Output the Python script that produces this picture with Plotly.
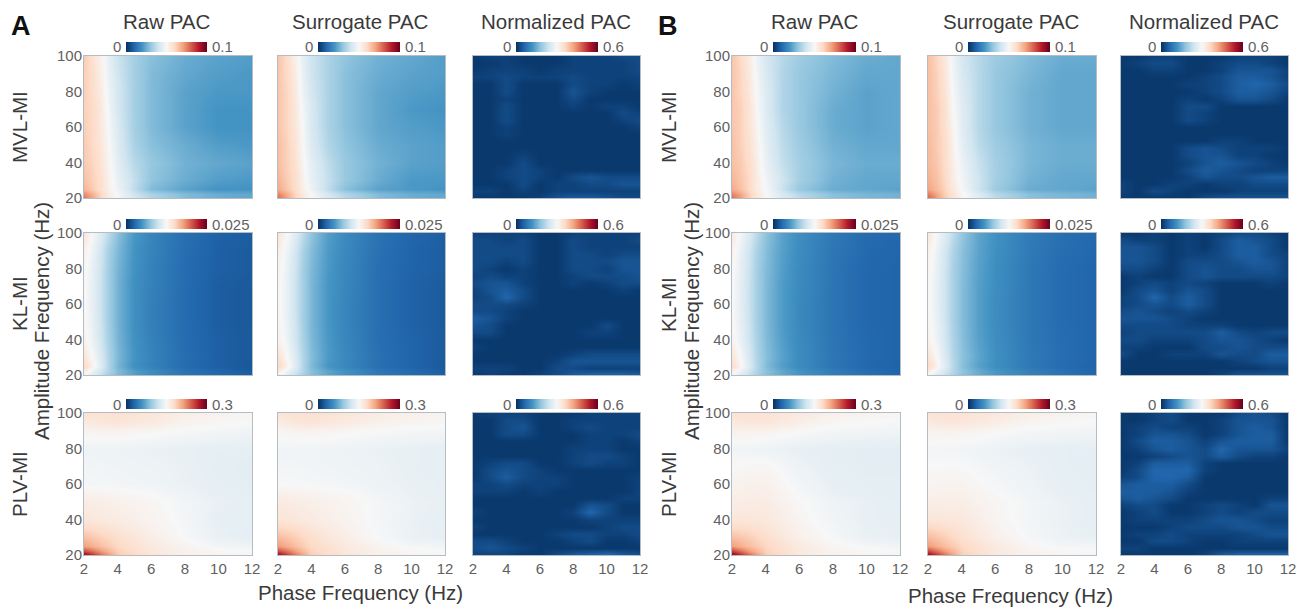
import plotly.graph_objects as go

W, H = 1305, 608
PAGE_MARGIN = 8  # the page body offsets the figure by this many pixels
RDBU = [[0.0, "#053061"], [0.1, "#2166ac"], [0.2, "#4393c3"], [0.3, "#92c5de"], [0.4, "#d1e5f0"],
        [0.5, "#f7f7f7"], [0.6, "#fddbc7"], [0.7, "#f4a582"], [0.8, "#d6604d"], [0.9, "#b2182b"], [1.0, "#67001f"]]

# ---- shared grids (Hz) ----
PHASE_FINE = [2, 2.5, 3, 3.5, 4, 5, 6, 8, 10, 12]
AMP_FINE = [100, 90, 80, 70, 60, 50, 40, 30, 25, 22, 20]
PHASE_PLV = [2, 3, 4, 6, 8, 10, 12]
AMP_PLV = [100, 95, 90, 80, 70, 60, 54, 50, 40, 30, 25, 22, 20]
PHASE_NORM = [2, 3, 4, 5, 6, 7, 8, 9, 10, 11, 12]
AMP_NORM = [100, 96, 92, 88, 84, 80, 76, 72, 68, 64, 60, 56, 52, 48, 44, 40, 36, 32, 28, 24, 20]

# ---- MVL-MI raw / surrogate (unit 0.001) ----
A_MVL_RAW = [
    [63, 58, 52, 45, 39, 33, 29, 25, 23, 22],
    [62, 59, 53, 46, 40, 33, 28, 24, 22, 21],
    [62, 59, 54, 47, 41, 33, 28, 23, 21, 21],
    [62, 60, 55, 48, 41, 33, 28, 23, 20, 20],
    [62, 60, 55, 49, 42, 33, 28, 23, 20, 20],
    [63, 60, 56, 50, 43, 34, 29, 25, 22, 21],
    [63, 61, 57, 51, 44, 36, 31, 26, 24, 23],
    [65, 62, 58, 52, 46, 38, 30, 25, 22, 21],
    [67, 63, 58, 52, 47, 37, 28, 23, 20, 20],
    [74, 68, 60, 54, 49, 40, 34, 28, 25, 24],
    [77, 70, 60, 54, 49, 41, 35, 28, 25, 24],
]
A_MVL_SUR = [
    [64, 60, 53, 45, 40, 34, 30, 26, 24, 22],
    [64, 60, 54, 46, 40, 34, 29, 25, 23, 22],
    [64, 61, 55, 47, 41, 34, 29, 24, 22, 21],
    [64, 61, 56, 48, 42, 34, 29, 24, 21, 20],
    [64, 61, 56, 49, 42, 34, 29, 24, 22, 21],
    [65, 62, 57, 50, 43, 35, 30, 25, 23, 22],
    [65, 62, 58, 51, 45, 37, 31, 26, 23, 22],
    [67, 63, 59, 52, 46, 38, 31, 25, 21, 21],
    [69, 64, 59, 53, 47, 37, 29, 23, 21, 20],
    [75, 69, 61, 55, 50, 41, 35, 28, 25, 24],
    [78, 71, 61, 55, 50, 42, 36, 28, 25, 24],
]
B_MVL_RAW = [
    [64, 60, 54, 47, 41, 36, 32, 28, 25, 24],
    [64, 61, 55, 48, 42, 35, 31, 27, 24, 24],
    [64, 61, 56, 49, 43, 35, 31, 26, 23, 24],
    [64, 62, 57, 50, 43, 35, 31, 25, 23, 24],
    [64, 62, 57, 51, 44, 36, 31, 25, 23, 24],
    [65, 62, 58, 52, 45, 37, 32, 26, 24, 24],
    [65, 63, 59, 53, 46, 38, 33, 27, 25, 25],
    [67, 64, 60, 54, 48, 40, 33, 26, 24, 24],
    [69, 65, 60, 54, 49, 39, 31, 25, 24, 23],
    [75, 70, 62, 56, 50, 42, 36, 29, 27, 26],
    [78, 72, 62, 56, 50, 43, 37, 29, 27, 26],
]
B_MVL_SUR = [
    [65, 61, 55, 47, 41, 36, 32, 28, 25, 25],
    [65, 62, 56, 48, 42, 36, 31, 27, 24, 24],
    [65, 62, 57, 49, 43, 36, 31, 26, 24, 24],
    [65, 63, 58, 50, 44, 36, 31, 26, 24, 24],
    [65, 63, 58, 51, 44, 36, 31, 26, 24, 24],
    [66, 63, 59, 52, 45, 37, 32, 27, 25, 25],
    [66, 64, 59, 53, 47, 39, 33, 27, 25, 25],
    [68, 65, 60, 54, 48, 40, 33, 26, 24, 24],
    [70, 66, 61, 55, 49, 40, 32, 25, 24, 23],
    [76, 70, 62, 57, 51, 43, 36, 29, 27, 26],
    [79, 72, 63, 57, 51, 44, 37, 29, 27, 26],
]

# ---- KL-MI raw / surrogate (unit 0.0001) ----
A_KL_RAW = [
    [140, 125, 108, 90, 72, 52, 42, 30, 23, 21],
    [132, 118, 100, 82, 68, 50, 41, 29, 22, 20],
    [128, 115, 98, 80, 66, 49, 40, 28, 22, 20],
    [126, 114, 97, 80, 65, 48, 40, 28, 21, 19],
    [126, 114, 97, 80, 65, 48, 39, 28, 21, 19],
    [127, 115, 98, 80, 65, 48, 39, 28, 21, 19],
    [130, 118, 100, 82, 66, 49, 40, 28, 22, 19],
    [142, 125, 105, 85, 68, 50, 41, 29, 22, 19],
    [150, 132, 108, 85, 66, 48, 40, 28, 22, 18],
    [135, 118, 100, 85, 70, 55, 46, 32, 25, 20],
    [125, 110, 95, 80, 68, 55, 46, 33, 26, 21],
]
A_KL_SUR = [
    [142, 127, 110, 92, 75, 55, 45, 32, 25, 22],
    [134, 120, 102, 84, 71, 53, 44, 31, 24, 21],
    [130, 117, 100, 82, 69, 52, 43, 30, 24, 21],
    [128, 116, 99, 82, 68, 51, 43, 30, 23, 20],
    [128, 116, 99, 82, 68, 51, 42, 30, 23, 20],
    [129, 117, 100, 82, 68, 51, 42, 30, 23, 20],
    [132, 120, 102, 84, 69, 52, 43, 30, 24, 20],
    [144, 127, 107, 87, 71, 53, 44, 31, 24, 20],
    [152, 134, 110, 87, 69, 51, 43, 30, 24, 19],
    [137, 120, 102, 87, 73, 58, 49, 34, 27, 21],
    [127, 112, 97, 82, 71, 58, 49, 35, 28, 22],
]
B_KL_RAW = [
    [138, 122, 106, 90, 74, 57, 47, 35, 28, 26],
    [130, 116, 100, 84, 71, 56, 46, 34, 27, 25],
    [127, 114, 98, 82, 70, 55, 45, 33, 26, 24],
    [125, 113, 97, 82, 69, 54, 45, 33, 26, 24],
    [125, 113, 97, 82, 69, 54, 44, 33, 26, 24],
    [126, 114, 98, 82, 69, 54, 44, 33, 26, 24],
    [129, 117, 100, 84, 70, 55, 45, 33, 27, 24],
    [141, 124, 104, 86, 72, 57, 46, 34, 27, 24],
    [148, 130, 107, 87, 70, 55, 45, 33, 26, 23],
    [134, 117, 100, 86, 73, 60, 50, 37, 29, 24],
    [124, 108, 94, 82, 71, 60, 50, 38, 30, 25],
]
B_KL_SUR = [
    [140, 124, 108, 92, 76, 59, 49, 37, 30, 27],
    [132, 118, 102, 86, 73, 58, 48, 36, 29, 26],
    [129, 116, 100, 84, 72, 57, 47, 35, 28, 25],
    [127, 115, 99, 84, 71, 56, 47, 35, 28, 25],
    [127, 115, 99, 84, 71, 56, 46, 35, 28, 25],
    [128, 116, 100, 84, 71, 56, 46, 35, 28, 25],
    [131, 119, 102, 86, 72, 57, 47, 35, 29, 25],
    [143, 126, 106, 88, 74, 59, 48, 36, 29, 25],
    [150, 132, 109, 89, 72, 57, 47, 35, 28, 24],
    [136, 119, 102, 88, 75, 62, 52, 39, 31, 25],
    [126, 110, 96, 84, 73, 62, 52, 40, 32, 26],
]

# ---- PLV-MI raw / surrogate (unit 0.001) ----
A_PLV_RAW = [
    [172, 172, 174, 168, 160, 156, 152],
    [164, 168, 170, 164, 156, 152, 150],
    [154, 155, 156, 152, 148, 146, 144],
    [143, 143, 142, 140, 138, 136, 135],
    [146, 145, 144, 142, 139, 135, 134],
    [148, 147, 146, 144, 140, 136, 134],
    [158, 156, 154, 150, 143, 137, 135],
    [162, 160, 158, 153, 145, 139, 136],
    [168, 165, 162, 155, 147, 137, 135],
    [195, 185, 175, 160, 149, 139, 135],
    [212, 195, 180, 165, 155, 146, 144],
    [250, 215, 185, 167, 157, 152, 150],
    [290, 235, 190, 170, 158, 153, 152],
]
A_PLV_SUR = [
    [170, 172, 174, 168, 162, 158, 154],
    [162, 168, 170, 164, 158, 154, 152],
    [153, 155, 156, 152, 149, 147, 146],
    [145, 145, 144, 142, 140, 138, 136],
    [146, 146, 145, 143, 141, 138, 136],
    [150, 149, 148, 146, 142, 139, 137],
    [160, 158, 156, 152, 145, 140, 137],
    [164, 162, 159, 154, 147, 141, 138],
    [170, 167, 163, 156, 147, 140, 136],
    [197, 187, 175, 160, 149, 140, 136],
    [214, 196, 180, 165, 155, 147, 145],
    [250, 214, 184, 167, 157, 152, 150],
    [285, 232, 188, 169, 158, 153, 152],
]
B_PLV_RAW = [
    [172, 172, 172, 165, 158, 155, 152],
    [165, 168, 168, 160, 152, 150, 148],
    [156, 156, 156, 150, 146, 145, 144],
    [145, 144, 142, 138, 135, 134, 134],
    [150, 152, 152, 142, 136, 134, 134],
    [155, 158, 158, 146, 138, 135, 135],
    [158, 160, 160, 149, 140, 136, 135],
    [160, 162, 162, 151, 143, 138, 136],
    [168, 168, 166, 154, 145, 138, 136],
    [195, 187, 176, 158, 148, 140, 137],
    [212, 196, 182, 164, 153, 147, 145],
    [255, 215, 185, 165, 155, 152, 150],
    [292, 238, 188, 166, 156, 153, 152],
]
B_PLV_SUR = [
    [170, 172, 172, 166, 160, 156, 153],
    [164, 168, 168, 161, 154, 151, 149],
    [155, 156, 156, 151, 147, 146, 145],
    [147, 146, 145, 141, 138, 136, 135],
    [150, 150, 150, 144, 140, 136, 135],
    [154, 155, 155, 148, 142, 137, 135],
    [157, 158, 158, 151, 144, 138, 136],
    [160, 160, 160, 153, 146, 140, 136],
    [170, 168, 166, 154, 146, 140, 136],
    [197, 186, 174, 158, 148, 141, 138],
    [214, 196, 181, 164, 153, 147, 146],
    [252, 214, 184, 165, 155, 152, 150],
    [286, 234, 187, 166, 156, 153, 152],
]

# ---- Normalized PAC (unit 0.01) ----
A_MVL_NORM = [
    [1, 2, 2, 1, 1, 1, 2, 2, 2, 3, 3],
    [1, 1, 2, 1, 1, 1, 2, 2, 2, 2, 3],
    [1, 2, 2, 2, 1, 2, 2, 2, 2, 2, 3],
    [2, 2, 3, 2, 2, 2, 3, 2, 2, 2, 2],
    [1, 1, 3, 1, 1, 1, 3, 2, 2, 1, 2],
    [1, 1, 3, 1, 1, 1, 4, 2, 1, 1, 1],
    [1, 1, 2, 1, 1, 1, 3, 1, 1, 1, 1],
    [1, 1, 3, 1, 1, 1, 2, 1, 2, 2, 1],
    [1, 1, 3, 1, 1, 1, 1, 1, 1, 3, 2],
    [1, 1, 3, 1, 1, 1, 1, 1, 1, 2, 3],
    [1, 1, 2, 1, 1, 1, 1, 1, 1, 1, 2],
    [1, 1, 2, 1, 1, 1, 1, 1, 1, 1, 1],
    [1, 1, 1, 1, 1, 1, 1, 1, 1, 1, 1],
    [1, 1, 1, 1, 1, 1, 1, 1, 1, 1, 1],
    [1, 1, 1, 2, 1, 1, 1, 1, 1, 1, 1],
    [1, 1, 1, 3, 1, 1, 1, 1, 1, 1, 1],
    [1, 1, 2, 3, 2, 1, 1, 1, 1, 1, 1],
    [1, 1, 2, 3, 2, 1, 3, 4, 3, 3, 3],
    [1, 1, 1, 3, 1, 2, 2, 3, 3, 4, 4],
    [2, 2, 1, 2, 1, 2, 2, 2, 2, 2, 2],
    [1, 1, 1, 1, 2, 4, 5, 5, 4, 3, 3],
]
A_KL_NORM = [
    [2, 2, 2, 2, 1, 1, 2, 2, 2, 2, 2],
    [3, 3, 2, 3, 1, 1, 3, 2, 2, 2, 3],
    [3, 3, 3, 3, 1, 1, 3, 2, 2, 2, 2],
    [3, 3, 3, 3, 1, 1, 3, 3, 2, 3, 3],
    [3, 3, 2, 3, 1, 1, 3, 3, 3, 4, 4],
    [3, 2, 1, 2, 1, 1, 3, 3, 2, 4, 4],
    [2, 3, 2, 2, 1, 1, 2, 3, 3, 3, 4],
    [3, 4, 4, 2, 1, 1, 2, 1, 2, 3, 3],
    [2, 4, 5, 3, 1, 1, 1, 1, 1, 2, 1],
    [2, 3, 6, 3, 1, 1, 1, 1, 1, 1, 1],
    [3, 3, 3, 2, 1, 1, 1, 1, 1, 1, 1],
    [3, 3, 2, 1, 1, 1, 1, 1, 1, 1, 1],
    [5, 4, 2, 1, 1, 1, 1, 1, 1, 1, 1],
    [4, 3, 1, 1, 1, 1, 1, 1, 3, 1, 1],
    [3, 3, 1, 1, 1, 1, 1, 2, 2, 1, 1],
    [1, 1, 1, 1, 1, 1, 1, 1, 1, 1, 1],
    [2, 1, 1, 1, 1, 1, 1, 1, 1, 1, 1],
    [1, 1, 1, 1, 1, 1, 2, 3, 3, 3, 3],
    [1, 1, 1, 1, 1, 2, 4, 4, 4, 4, 4],
    [2, 2, 2, 1, 1, 3, 3, 2, 2, 2, 2],
    [1, 2, 1, 1, 2, 3, 5, 6, 6, 6, 5],
]
A_PLV_NORM = [
    [1, 2, 2, 2, 1, 1, 1, 2, 2, 2, 2],
    [1, 1, 3, 3, 1, 1, 2, 2, 2, 2, 2],
    [1, 1, 3, 4, 1, 1, 2, 3, 2, 2, 2],
    [1, 1, 3, 3, 1, 1, 1, 2, 2, 2, 3],
    [1, 1, 1, 1, 1, 1, 1, 2, 2, 1, 2],
    [1, 1, 1, 1, 1, 1, 2, 2, 2, 1, 1],
    [1, 1, 1, 1, 1, 1, 2, 3, 3, 2, 1],
    [1, 2, 3, 3, 1, 1, 2, 3, 2, 2, 1],
    [1, 3, 4, 3, 2, 1, 1, 1, 1, 1, 1],
    [1, 3, 5, 3, 2, 2, 1, 1, 1, 1, 2],
    [2, 2, 3, 2, 2, 2, 1, 1, 1, 1, 2],
    [2, 2, 2, 1, 2, 1, 1, 1, 1, 1, 2],
    [1, 1, 1, 1, 1, 1, 1, 1, 1, 2, 2],
    [1, 1, 1, 1, 1, 1, 1, 4, 3, 1, 1],
    [2, 1, 1, 1, 1, 1, 2, 6, 3, 1, 1],
    [1, 1, 1, 1, 1, 1, 1, 2, 2, 2, 2],
    [2, 1, 1, 1, 1, 1, 1, 1, 2, 3, 3],
    [1, 1, 1, 1, 1, 2, 3, 3, 2, 2, 3],
    [3, 3, 2, 1, 1, 1, 2, 3, 1, 1, 2],
    [3, 4, 3, 2, 1, 1, 1, 1, 1, 1, 1],
    [2, 2, 2, 1, 1, 3, 5, 6, 7, 5, 4],
]
B_MVL_NORM = [
    [1, 1, 2, 2, 1, 1, 1, 2, 2, 2, 1],
    [1, 2, 3, 3, 1, 1, 2, 3, 3, 2, 1],
    [1, 1, 2, 2, 1, 1, 2, 4, 4, 4, 2],
    [1, 1, 1, 1, 1, 2, 3, 5, 5, 4, 2],
    [1, 1, 1, 1, 2, 2, 3, 5, 6, 5, 3],
    [1, 1, 1, 1, 1, 2, 3, 5, 5, 4, 2],
    [1, 1, 1, 1, 2, 1, 2, 4, 4, 3, 1],
    [1, 1, 1, 1, 3, 3, 1, 1, 1, 1, 1],
    [1, 1, 1, 1, 3, 2, 1, 1, 1, 1, 1],
    [1, 1, 1, 1, 3, 2, 1, 1, 1, 1, 1],
    [1, 1, 1, 1, 1, 1, 1, 1, 1, 1, 1],
    [1, 1, 1, 1, 1, 1, 1, 1, 1, 1, 1],
    [1, 1, 1, 1, 1, 1, 2, 2, 1, 1, 1],
    [1, 1, 1, 1, 3, 4, 3, 2, 2, 2, 1],
    [1, 1, 1, 1, 3, 4, 4, 2, 2, 1, 1],
    [1, 1, 1, 1, 2, 4, 5, 4, 3, 2, 1],
    [1, 1, 1, 1, 3, 5, 4, 3, 2, 2, 2],
    [1, 1, 1, 1, 2, 4, 3, 3, 4, 5, 5],
    [2, 1, 1, 2, 2, 1, 2, 2, 3, 3, 3],
    [2, 1, 3, 2, 1, 1, 1, 2, 2, 2, 2],
    [1, 1, 1, 1, 1, 3, 4, 4, 4, 4, 4],
]
B_KL_NORM = [
    [1, 1, 2, 1, 2, 1, 2, 3, 3, 2, 1],
    [3, 2, 2, 1, 2, 1, 3, 5, 4, 3, 1],
    [4, 4, 3, 1, 2, 1, 3, 5, 5, 3, 1],
    [4, 4, 3, 1, 2, 2, 3, 5, 5, 3, 2],
    [4, 4, 3, 1, 3, 3, 3, 4, 5, 4, 2],
    [3, 3, 2, 1, 3, 4, 3, 3, 4, 4, 2],
    [1, 2, 1, 1, 3, 4, 3, 3, 3, 3, 2],
    [1, 2, 3, 2, 3, 2, 1, 1, 1, 2, 1],
    [1, 3, 4, 2, 4, 3, 1, 1, 1, 1, 1],
    [2, 3, 6, 3, 5, 3, 1, 1, 1, 1, 1],
    [2, 3, 4, 3, 5, 3, 1, 1, 1, 1, 1],
    [3, 4, 3, 2, 3, 2, 1, 1, 1, 1, 1],
    [4, 4, 4, 3, 2, 1, 1, 1, 1, 1, 1],
    [3, 3, 3, 3, 2, 2, 2, 1, 1, 1, 1],
    [2, 3, 3, 3, 3, 3, 5, 3, 2, 3, 3],
    [3, 3, 2, 2, 2, 3, 4, 4, 3, 2, 1],
    [2, 2, 1, 1, 1, 3, 3, 4, 3, 3, 3],
    [3, 1, 1, 2, 2, 2, 4, 3, 3, 5, 5],
    [1, 1, 1, 1, 1, 1, 1, 2, 3, 4, 4],
    [1, 1, 1, 1, 1, 1, 1, 1, 1, 2, 2],
    [1, 1, 1, 1, 1, 1, 2, 4, 4, 4, 4],
]
B_PLV_NORM = [
    [1, 1, 2, 3, 1, 1, 1, 3, 4, 3, 1],
    [1, 1, 2, 3, 1, 1, 2, 4, 4, 4, 1],
    [1, 2, 3, 2, 2, 1, 2, 4, 5, 4, 1],
    [1, 2, 4, 4, 3, 1, 2, 4, 5, 5, 1],
    [1, 3, 5, 5, 4, 2, 4, 5, 5, 5, 1],
    [1, 2, 4, 5, 4, 3, 6, 4, 4, 4, 2],
    [1, 1, 2, 3, 4, 3, 5, 3, 2, 2, 1],
    [1, 2, 5, 5, 5, 2, 1, 1, 1, 1, 1],
    [1, 3, 6, 6, 6, 2, 1, 1, 1, 1, 1],
    [2, 3, 6, 6, 5, 1, 1, 1, 1, 1, 1],
    [4, 5, 5, 5, 3, 1, 1, 1, 1, 1, 1],
    [5, 5, 5, 4, 2, 1, 1, 1, 1, 1, 1],
    [4, 5, 4, 3, 1, 1, 1, 1, 1, 2, 2],
    [2, 3, 3, 1, 1, 2, 3, 2, 1, 4, 4],
    [1, 2, 3, 1, 1, 2, 3, 2, 3, 3, 3],
    [1, 2, 2, 2, 2, 3, 4, 4, 3, 2, 2],
    [1, 1, 1, 2, 3, 3, 3, 4, 4, 3, 3],
    [1, 2, 2, 3, 2, 2, 2, 2, 3, 4, 4],
    [1, 1, 3, 3, 2, 1, 1, 2, 2, 2, 2],
    [2, 2, 1, 1, 1, 1, 1, 1, 1, 1, 1],
    [1, 1, 1, 1, 1, 2, 5, 6, 6, 6, 6],
]

ROW_NAMES = ["MVL-MI", "KL-MI", "PLV-MI"]
COL_TITLES = ["Raw PAC", "Surrogate PAC", "Normalized PAC"]
GROUP_LETTERS = ["A", "B"]
RANGE_LABELS = [["0.1", "0.1", "0.6"], ["0.025", "0.025", "0.6"], ["0.3", "0.3", "0.6"]]
RANGE_MAX = [[0.1, 0.1, 0.6], [0.025, 0.025, 0.6], [0.3, 0.3, 0.6]]
UNITS = [[1e-3, 1e-3, 1e-2], [1e-4, 1e-4, 1e-2], [1e-3, 1e-3, 1e-2]]
GRIDS = [(PHASE_FINE, AMP_FINE), (PHASE_FINE, AMP_FINE), (PHASE_PLV, AMP_PLV)]
PANELS = [
    [[A_MVL_RAW, A_MVL_SUR, A_MVL_NORM], [A_KL_RAW, A_KL_SUR, A_KL_NORM], [A_PLV_RAW, A_PLV_SUR, A_PLV_NORM]],
    [[B_MVL_RAW, B_MVL_SUR, B_MVL_NORM], [B_KL_RAW, B_KL_SUR, B_KL_NORM], [B_PLV_RAW, B_PLV_SUR, B_PLV_NORM]],
]
X_TICKS = [2, 4, 6, 8, 10, 12]
Y_TICKS = [20, 40, 60, 80, 100]

# layout in page pixels
COL_X = [[(84, 252), (278, 445), (473, 640)], [(732, 900), (928, 1096), (1121, 1288)]]
ROW_Y = [(56, 198), (233, 375), (413, 555)]
CB_X = [[(126, 207), (318, 400), (516, 598)], [(773, 856), (968, 1050), (1161, 1243)]]
CB_Y = [(42, 52), (219, 229), (399, 409)]

FONT = "Liberation Sans"
TICK_C, TEXT_C = "#5f5f5f", "#3a3a3a"
LABEL_SIZE = 20.5
FIG_W, FIG_H = W - PAGE_MARGIN, H - PAGE_MARGIN


def px(v):
    return (v - PAGE_MARGIN) / FIG_W


def py(v):
    return 1 - (v - PAGE_MARGIN) / FIG_H


fig = go.Figure()
ann = []
n = 0
for g in range(2):
    for r in range(3):
        for c in range(3):
            n += 1
            xn, yn = f"x{n}", f"y{n}"
            unit = UNITS[r][c]
            xs, ys = (PHASE_NORM, AMP_NORM) if c == 2 else GRIDS[r]
            z = [[v * unit for v in row] for row in PANELS[g][r][c]]
            (cx0, cx1), (cy0, cy1) = CB_X[g][c], CB_Y[r]
            fig.add_trace(go.Heatmap(
                x=xs, y=ys[::-1], z=z[::-1], xaxis=xn, yaxis=yn, zsmooth="best",
                colorscale=RDBU, zmin=0, zmax=RANGE_MAX[r][c], hoverinfo="skip",
                colorbar=dict(orientation="h", x=px(cx0), xanchor="left", y=py(cy0), yanchor="top",
                              len=(cx1 - cx0) / FIG_W, lenmode="fraction", thickness=cy1 - cy0,
                              thicknessmode="pixels", outlinewidth=0, ticks="", showticklabels=False,
                              xpad=0, ypad=0, borderwidth=0)))
            suffix = "" if n == 1 else str(n)
            x0, x1 = COL_X[g][c]
            y0, y1 = ROW_Y[r]
            fig.layout["xaxis" + suffix] = dict(
                domain=[px(x0), px(x1)], range=[2, 12], anchor=yn, tickvals=X_TICKS, ticks="",
                showticklabels=r == 2, showgrid=False, zeroline=False, showline=True, mirror=True,
                linecolor="#b4bcc4", linewidth=1, tickfont=dict(family=FONT, size=15, color=TICK_C))
            fig.layout["yaxis" + suffix] = dict(
                domain=[py(y1), py(y0)], range=[20, 100], anchor=xn, tickvals=Y_TICKS, ticks="",
                showticklabels=c == 0, showgrid=False, zeroline=False, showline=True, mirror=True,
                linecolor="#b4bcc4", linewidth=1, ticklabelstandoff=-2,
                tickfont=dict(family=FONT, size=15, color=TICK_C))
            cym = (cy0 + cy1) / 2
            ann.append(dict(x=px(cx0 - 3), y=py(cym), text="0", xanchor="right", yanchor="middle",
                            font=dict(size=15, color=TICK_C)))
            ann.append(dict(x=px(cx1 + 3), y=py(cym), text=RANGE_LABELS[r][c], xanchor="left", yanchor="middle",
                            font=dict(size=15, color=TICK_C)))

for g in range(2):
    for c in range(3):
        x0, x1 = COL_X[g][c]
        ann.append(dict(x=px((x0 + x1) / 2 - 1), y=py(22), text=COL_TITLES[c], xanchor="center", yanchor="middle",
                        font=dict(size=LABEL_SIZE, color=TEXT_C)))
    offs = [19, 668][g]
    for r in range(3):
        y0, y1 = ROW_Y[r]
        ann.append(dict(x=px(offs), y=py((y0 + y1) / 2), text=ROW_NAMES[r], textangle=-90,
                        xanchor="center", yanchor="middle", font=dict(size=LABEL_SIZE, color=TEXT_C)))
    ann.append(dict(x=px([42, 692][g]), y=py(321), text="Amplitude Frequency (Hz)", textangle=-90,
                    xanchor="center", yanchor="middle", font=dict(size=LABEL_SIZE, color=TEXT_C)))
    ann.append(dict(x=px([360, 1010][g]), y=py([592, 595][g]), text="Phase Frequency (Hz)", xanchor="center",
                    yanchor="middle", font=dict(size=LABEL_SIZE, color=TEXT_C)))
    ann.append(dict(x=px([21, 668][g]), y=py(26), text=f"<b>{GROUP_LETTERS[g]}</b>", xanchor="center",
                    yanchor="middle", font=dict(size=27, color="#111111")))

for a in ann:
    a.update(xref="paper", yref="paper", showarrow=False)
    a["font"]["family"] = FONT

fig.update_layout(width=FIG_W, height=FIG_H, margin=dict(l=0, r=0, t=0, b=0, autoexpand=False),
                  paper_bgcolor="white", plot_bgcolor="white", annotations=ann, showlegend=False)
fig.write_html("out.html")
